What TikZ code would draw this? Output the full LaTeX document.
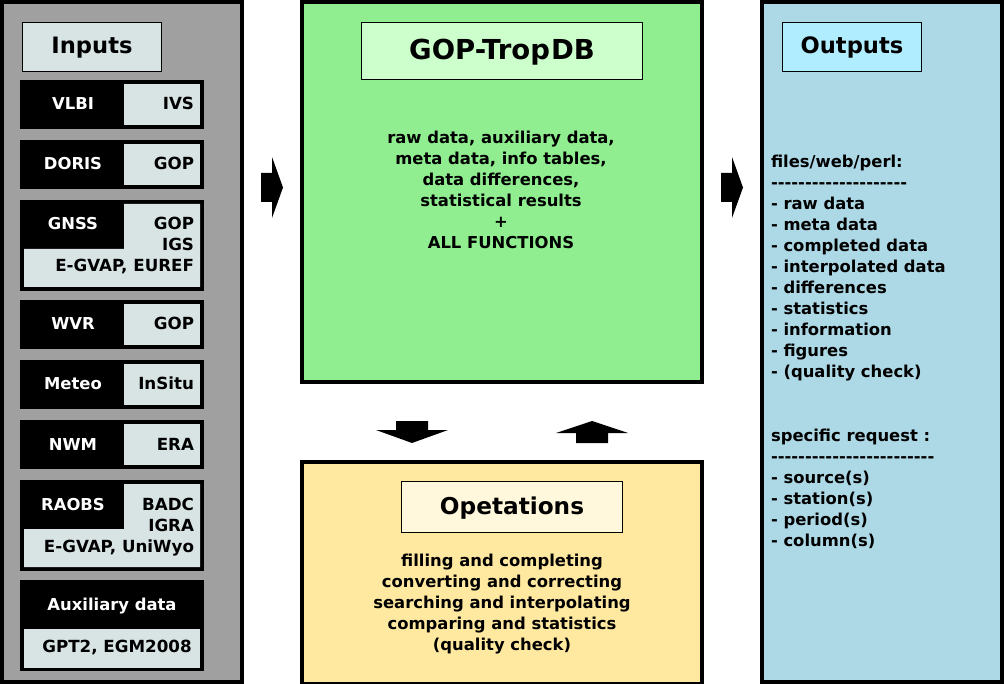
\documentclass[tikz,border=0pt]{standalone}
\usepackage{fontspec}
\setmainfont{DejaVu Sans}
\ExplSyntaxOn
\NewDocumentCommand\hyrow{m}{\prg_replicate:nn{#1}{-\kern0pt}}
\ExplSyntaxOff
\definecolor{ingray}{HTML}{A0A0A0}
\definecolor{cellc}{HTML}{D8E4E4}
\definecolor{dbgreen}{HTML}{90EE90}
\definecolor{dbtitle}{HTML}{CCFFCC}
\definecolor{opyellow}{HTML}{FFE8A0}
\definecolor{optitle}{HTML}{FFF8DC}
\definecolor{outblue}{HTML}{ADD8E6}
\definecolor{outtitle}{HTML}{B0EEFF}
\begin{document}
\begin{tikzpicture}[x=1pt,y=-1pt,
  every node/.style={inner sep=0pt,outer sep=0pt,font=\bfseries\fontsize{16.4}{21}\selectfont},
  panelbox/.style={draw=black,line width=4pt,anchor=north west},
  titlebox/.style={draw=black,line width=1.5pt,font=\bfseries\fontsize{22.6}{26}\selectfont,text height=16pt,text depth=2pt},
  srcbox/.style={fill=black,anchor=north west,minimum width=184pt},
  srcfont/.style={font=\bfseries\fontsize{16.7}{21}\selectfont},
  srcname/.style={font=\bfseries\fontsize{16.4}{21}\selectfont,text=white,anchor=base},
  srcorg/.style={srcfont,anchor=base east},
  blockarrow/.style={fill=black},
  bodytext/.style={align=center,anchor=north},
  listtext/.style={align=left,anchor=north west}]
\useasboundingbox (0,0) rectangle (1004,684);

% ---------- panels ----------
\node[panelbox,fill=ingray,minimum width=240pt,minimum height=680pt] (inputs) at (2,2) {};
\node[panelbox,fill=dbgreen,minimum width=400pt,minimum height=380pt] (db) at (302,2) {};
\node[panelbox,fill=opyellow,minimum width=400pt,minimum height=222pt] (ops) at (302,462) {};
\node[panelbox,fill=outblue,minimum width=240pt,minimum height=680pt] (outputs) at (762,2) {};

% ---------- titles ----------
\node[titlebox,fill=cellc,minimum width=139pt,minimum height=49pt] (intitle) at (92,47) {Inputs};
\node[titlebox,fill=dbtitle,minimum width=281pt,minimum height=57pt,font=\bfseries\fontsize{27.5}{31}\selectfont,text height=18.5pt,text depth=2pt] (dbtitle) at (502,51) {GOP-Trop\kern1ptDB};
\node[titlebox,fill=optitle,minimum width=221pt,minimum height=51pt,font=\bfseries\fontsize{23.2}{27}\selectfont] (optitle) at (512,507) {Opetations};
\node[titlebox,fill=outtitle,minimum width=139pt,minimum height=49pt] (outtitle) at (852,47) {Outputs};

% ---------- input sources ----------
% VLBI
\node[srcbox,minimum height=49pt] (vlbi) at (20,80) {};
\fill[cellc] (124,84) rectangle (200,125);
\node[srcname] (vlbiname) at (73,110) {VLBI};
\node[srcorg] (vlbiorg) at (194,110) {IVS};
% DORIS
\node[srcbox,minimum height=49pt] (doris) at (20,140) {};
\fill[cellc] (124,144) rectangle (200,185);
\node[srcname] (dorisname) at (73,170) {DORIS};
\node[srcorg] (dorisorg) at (194,170) {GOP};
% GNSS
\node[srcbox,minimum height=91pt] (gnss) at (20,200) {};
\fill[cellc] (124,204) -- (200,204) -- (200,287) -- (24,287) -- (24,249) -- (124,249) -- cycle;
\node[srcname] (gnssname) at (73,230) {GNSS};
\node[srcorg] (gnssorga) at (194,230) {GOP};
\node[srcorg] (gnssorgb) at (194,251) {IGS};
\node[srcorg] (gnssorgc) at (194,272) {E-GVAP, EUREF};
% WVR
\node[srcbox,minimum height=49pt] (wvr) at (20,300) {};
\fill[cellc] (124,304) rectangle (200,345);
\node[srcname] (wvrname) at (73,330) {WVR};
\node[srcorg] (wvrorg) at (194,330) {GOP};
% Meteo
\node[srcbox,minimum height=49pt] (meteo) at (20,360) {};
\fill[cellc] (124,364) rectangle (200,405);
\node[srcname] (meteoname) at (73,390) {Meteo};
\node[srcorg] (meteoorg) at (194,390) {InSitu};
% NWM
\node[srcbox,minimum height=49pt] (nwm) at (20,420) {};
\fill[cellc] (124,424) rectangle (200,465);
\node[srcname] (nwmname) at (73,450) {NWM};
\node[srcorg] (nwmorg) at (194,450) {ERA};
% RAOBS
\node[srcbox,minimum height=91pt] (raobs) at (20,480) {};
\fill[cellc] (124,484) -- (200,484) -- (200,567) -- (24,567) -- (24,529) -- (124,529) -- cycle;
\node[srcname] (raobsname) at (73,510) {RAOBS};
\node[srcorg] (raobsorga) at (194,510) {BADC};
\node[srcorg] (raobsorgb) at (194,531) {IGRA};
\node[srcorg] (raobsorgc) at (194,552) {E-GVAP, UniWyo};
% Auxiliary
\node[srcbox,minimum height=91pt] (aux) at (20,580) {};
\fill[cellc] (24,629) rectangle (200,668);
\node[srcname] (auxname) at (112,610) {Auxiliary data};
\node[srcfont,anchor=base] (auxorg) at (117,652) {GPT2, EGM2008};

% ---------- body texts ----------
\node[bodytext] (dbtext) at (501,131.5) {raw data, auxiliary data,\\ meta data, info tables,\\ data differences,\\ statistical results\\ +\\ ALL FUNCTIONS};
\node[bodytext] (optext) at (502,554.5) {filling and completing\\ converting and correcting\\ searching and interpolating\\ comparing and statistics\\ (quality check)};
\node[listtext] (outlista) at (771,155.5) {files/web/perl:\\ \hyrow{20}\\ - raw data\\ - meta data\\ - completed data\\ - interpolated data\\ - differences\\ - statistics\\ - information\\ - figures\\ - (quality check)};
\node[listtext] (outlistb) at (771,429.5) {specific request :\\ \hyrow{24}\\ - source(s)\\ - station(s)\\ - period(s)\\ - column(s)};

% ---------- block arrows ----------
\fill[blockarrow] (261,173) -- (272,173) -- (272,157) -- (283,187.5) -- (272,218) -- (272,202) -- (261,202) -- cycle;
\fill[blockarrow] (721,173) -- (732,173) -- (732,157) -- (743,187.5) -- (732,218) -- (732,202) -- (721,202) -- cycle;
\fill[blockarrow] (396,421) -- (428,421) -- (428,430) -- (448,430) -- (412,443) -- (376,430) -- (396,430) -- cycle;
\fill[blockarrow] (592,421) -- (628,433) -- (608,433) -- (608,443) -- (576,443) -- (576,433) -- (556,433) -- cycle;
\end{tikzpicture}
\end{document}
